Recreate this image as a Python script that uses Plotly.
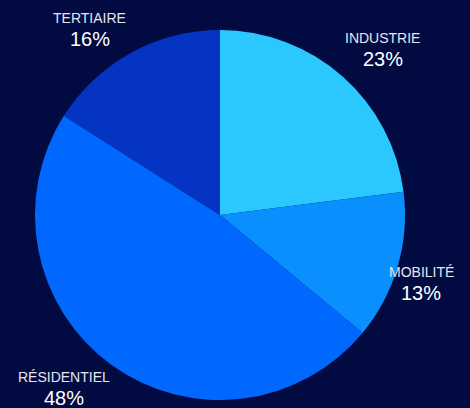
import math
import plotly.graph_objects as go

sectors = ["INDUSTRIE", "MOBILITÉ", "RÉSIDENTIEL", "TERTIAIRE"]
shares = [23, 13, 48, 16]
colors = ["#2AC8FF", "#0A8FFF", "#0068FF", "#0534C2"]

# label nudges (px, y down) applied to a point set along each slice's mid angle
label_nudge = [(14, -8), (-15, -6), (-24, -20), (-22, 0)]

W, H = 470, 408
cx, cy, r = 220, 215, 185

fig = go.Figure(
    go.Pie(
        labels=sectors,
        values=shares,
        textinfo="none",
        sort=False,
        direction="clockwise",
        rotation=0,
        marker=dict(colors=colors, line=dict(width=0)),
        showlegend=False,
        hoverinfo="label+percent",
        domain=dict(x=[(cx - r) / W, (cx + r) / W],
                    y=[1 - (cy + r) / H, 1 - (cy - r) / H]),
    )
)

# outside labels: name above, percentage below
total = sum(shares)
cum = 0
for name, v, (nx, ny) in zip(sectors, shares, label_nudge):
    mid = (cum + v / 2) / total * 2 * math.pi
    cum += v
    px = cx + 225 * math.sin(mid) + nx
    py = cy - 225 * math.cos(mid) + ny
    fig.add_annotation(x=px / W, y=1 - py / H, xref="paper", yref="paper",
                       text=name, showarrow=False, xanchor="center", yanchor="middle",
                       font=dict(family="Liberation Sans, Arial", size=14, color="#E4E6F0"))
    fig.add_annotation(x=px / W, y=1 - (py + 21) / H, xref="paper", yref="paper",
                       text=f"{v}%", showarrow=False, xanchor="center", yanchor="middle",
                       font=dict(family="Liberation Sans, Arial", size=20, color="#FFFFFF"))

fig.update_layout(
    width=W,
    height=H,
    margin=dict(l=0, r=0, t=0, b=0),
    paper_bgcolor="#010B42",
    plot_bgcolor="#010B42",
)

fig.write_html("out.html", config={"displayModeBar": False},
               post_script="document.body.style.margin='0';")
